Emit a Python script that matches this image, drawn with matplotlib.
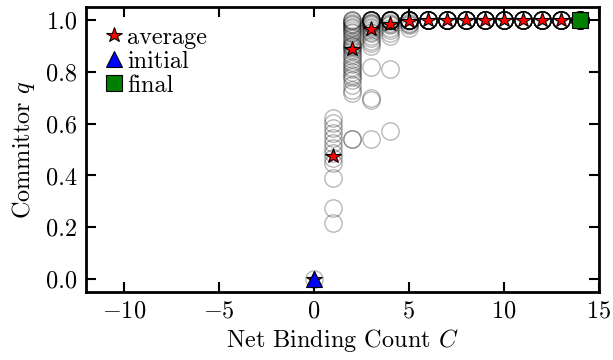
import matplotlib
matplotlib.use("Agg")
import matplotlib.pyplot as plt
import numpy as np

plt.rcParams["font.family"] = ["cmr10", "DejaVu Serif"]
plt.rcParams["mathtext.fontset"] = "cm"
plt.rcParams["axes.formatter.use_mathtext"] = True
plt.rcParams["axes.unicode_minus"] = True

# committor estimates for each net binding count
samples = {
    0: [0.0],
    1: [0.622, 0.602, 0.583, 0.564, 0.545, 0.525, 0.506, 0.487, 0.467, 0.448,
        0.389, 0.273, 0.215],
    2: [1.0, 1.0, 0.995, 0.99, 0.985, 0.98, 0.975, 0.97, 0.96, 0.955, 0.95, 0.94,
        0.93, 0.92, 0.91, 0.905, 0.90, 0.895, 0.89, 0.88, 0.87, 0.86, 0.85,
        0.84, 0.83, 0.82, 0.81, 0.80, 0.79, 0.78, 0.77, 0.75, 0.73, 0.72,
        0.54, 0.54],
    3: [1.0] * 8 + [0.995, 0.99, 0.99, 0.985, 0.98, 0.975, 0.97, 0.96, 0.955,
                    0.95, 0.94, 0.93, 0.92, 0.91, 0.90, 0.82, 0.70, 0.69, 0.54],
    4: [1.0] * 10 + [0.995, 0.99, 0.985, 0.98, 0.97, 0.96, 0.95, 0.94, 0.81, 0.57],
    5: [1.0] * 12 + [0.995, 0.99, 0.985, 0.98, 0.97],
    6: [1.0] * 12,
    7: [1.0] * 12,
    8: [1.0] * 12,
    9: [1.0] * 12,
    10: [1.0] * 12,
    11: [1.0] * 12,
    12: [1.0] * 12,
    13: [1.0] * 12,
    14: [1.0] * 12,
}

avg_counts = [0, 1, 2, 3, 4, 5, 6, 7, 8, 9, 10, 11, 12, 13, 14]
avg_q = [0.0, 0.476, 0.889, 0.964, 0.987, 0.996, 1.0, 1.0, 1.0, 1.0, 1.0,
         1.0, 1.0, 1.0, 1.0]

initial_point = (0, 0.0)
final_point = (14, 1.0)

fig = plt.figure(figsize=(6.13, 3.6), dpi=100)
ax = fig.add_axes([0.140, 0.189, 0.837, 0.791])

cx = np.concatenate([[c] * len(v) for c, v in samples.items()])
cy = np.concatenate([v for v in samples.values()])
ax.plot(cx, cy, linestyle="none", marker="o", markersize=12.5,
        markerfacecolor="none", markeredgecolor=(0, 0, 0, 0.28),
        markeredgewidth=1.0)

ax.plot(avg_counts, avg_q, linestyle="none", marker="*", markersize=11.5,
        markerfacecolor="red", markeredgecolor="black", markeredgewidth=0.8,
        label="average")
ax.plot([initial_point[0]], [initial_point[1]], linestyle="none", marker="^",
        markersize=12, markerfacecolor="blue", markeredgecolor="black",
        markeredgewidth=0.8, label="initial")
ax.plot([final_point[0]], [final_point[1]], linestyle="none", marker="s",
        markersize=11.5, markerfacecolor="green", markeredgecolor="black",
        markeredgewidth=0.8, label="final")

ax.set_xlim(-12, 15)
ax.set_ylim(-0.05, 1.05)
ax.set_xticks([-10, -5, 0, 5, 10, 15])
ax.set_yticks([0.0, 0.2, 0.4, 0.6, 0.8, 1.0])
ax.set_yticklabels(["0.0", "0.2", "0.4", "0.6", "0.8", "1.0"])

ax.tick_params(direction="in", top=True, right=True, length=7, width=1.5,
               labelsize=17.5, pad=6)
for s in ax.spines.values():
    s.set_linewidth(2)

ax.set_xlabel("Net Binding Count $C$", fontsize=17.5, labelpad=3)
ax.set_ylabel("Committor $q$", fontsize=17.5, labelpad=7)

ax.legend(loc="upper left", frameon=False, fontsize=17.5, numpoints=1,
          handlelength=0.7, handletextpad=0.2, labelspacing=0.08,
          borderaxespad=0.5, borderpad=0.3)

fig.savefig("out.png", dpi=100)
